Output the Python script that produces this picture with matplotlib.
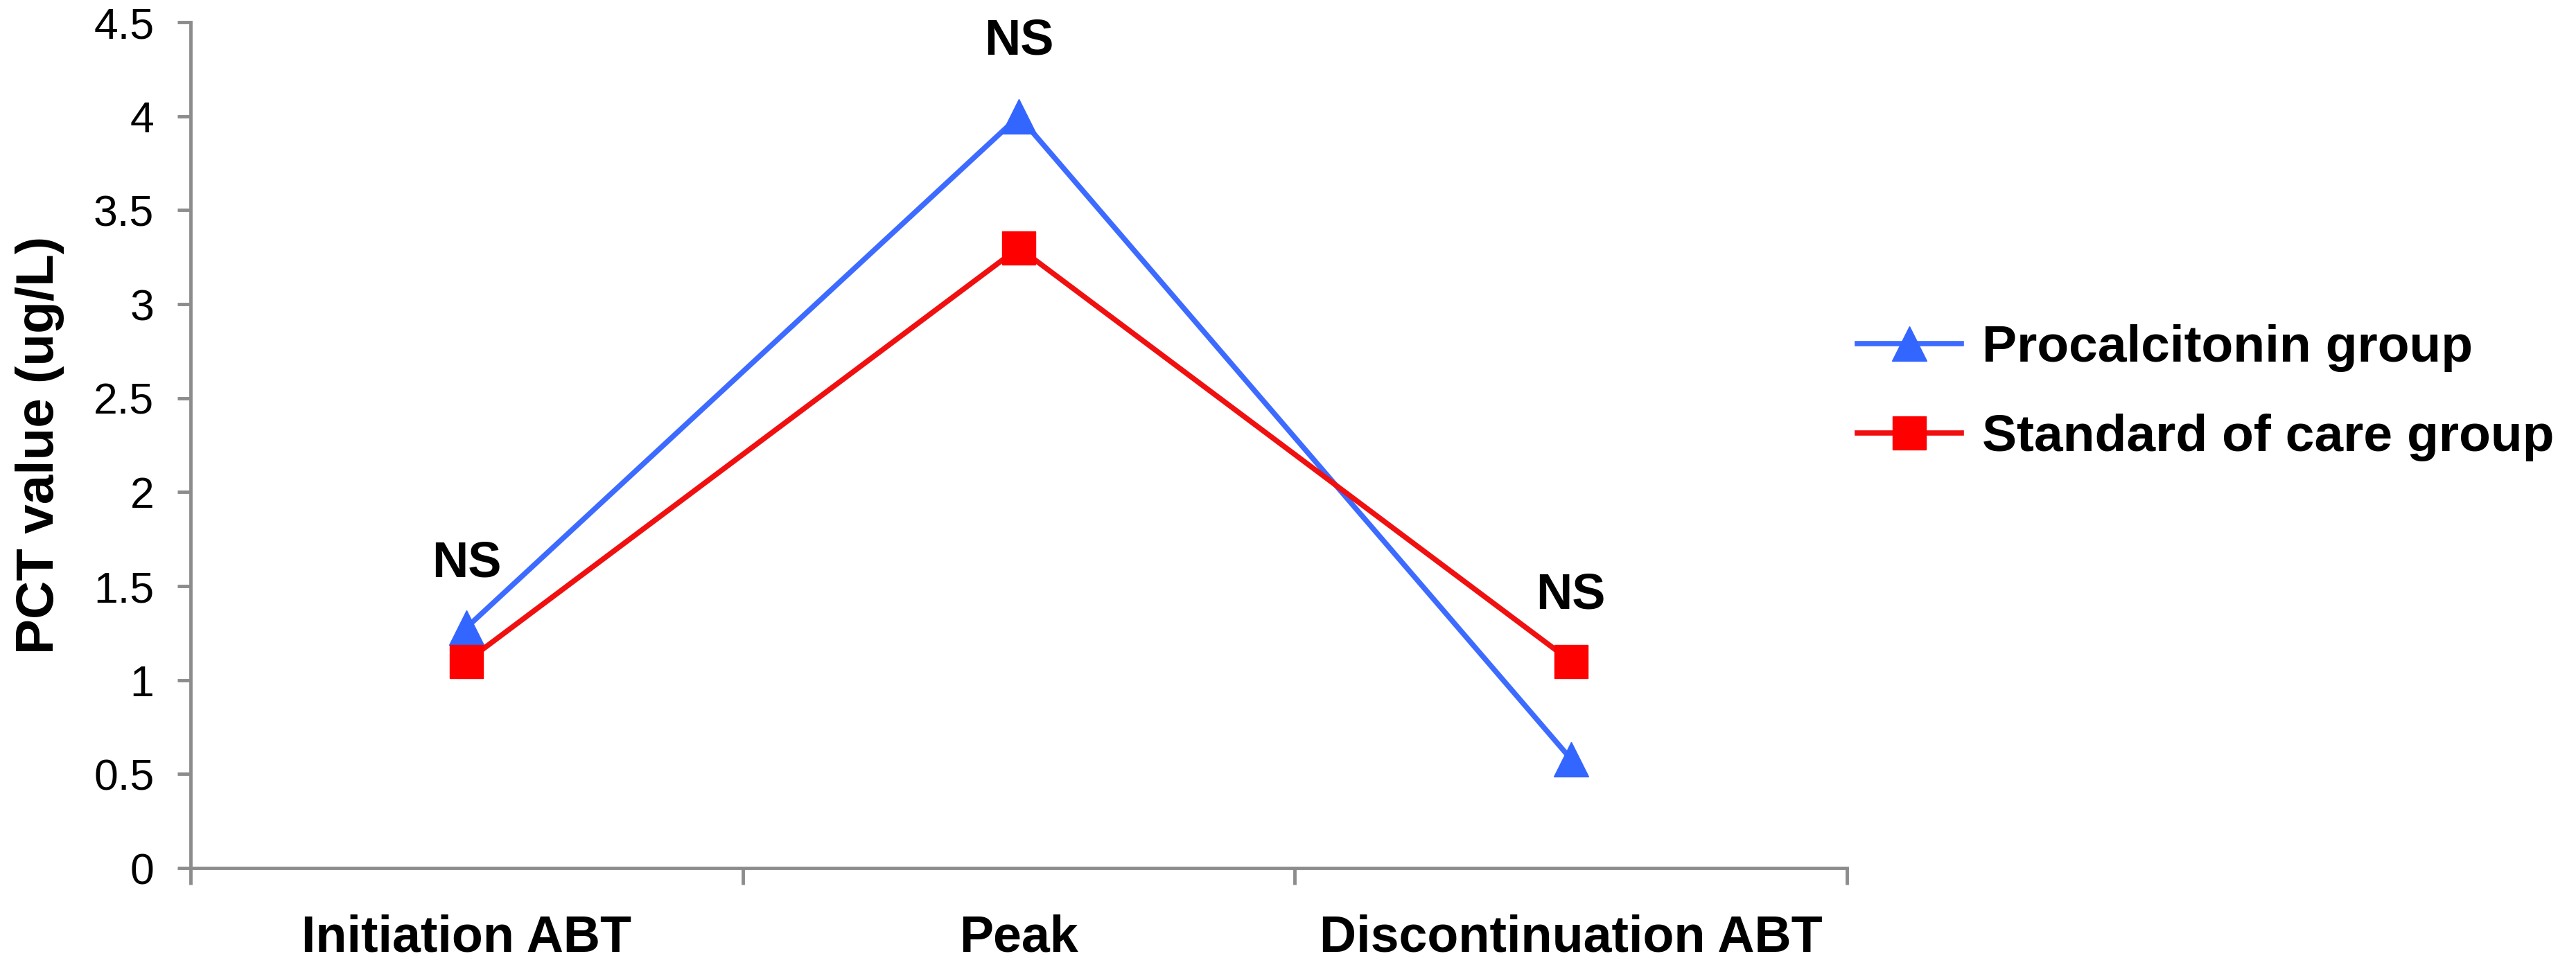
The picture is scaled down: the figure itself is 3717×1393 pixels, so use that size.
import numpy as np
import matplotlib
matplotlib.use("Agg")
import matplotlib.pyplot as plt

# values
categories = ["Initiation ABT", "Peak", "Discontinuation ABT"]
procalcitonin = [1.28, 4.0, 0.58]
standard_care = [1.1, 3.3, 1.1]
ns_heights = [1.62, 4.4, 1.45]
ns_labels = ["NS", "NS", "NS"]
y_ticks = [0, 0.5, 1, 1.5, 2, 2.5, 3, 3.5, 4, 4.5]
y_ticklabels = ["0", "0.5", "1", "1.5", "2", "2.5", "3", "3.5", "4", "4.5"]

plt.rcParams['font.family'] = ['Liberation Sans', 'DejaVu Sans']
axis_grey = "#8c8c8c"

fig = plt.figure(figsize=(37.17, 13.93), dpi=100)
ax = fig.add_axes([0.074, 0.1005, 0.643, 0.8765])

x = np.arange(len(categories))
ax.plot(x, procalcitonin, color="#3d6bff", lw=5.5, marker="^", markersize=36,
        markerfacecolor="#3366ff", markeredgecolor="#3366ff", label="Procalcitonin group",
        zorder=3)
ax.plot(x, standard_care, color="#f01010", lw=5.5, marker="s", markersize=34,
        markerfacecolor="#ff0000", markeredgecolor="#ff0000", label="Standard of care group",
        zorder=4)

for xi, h, txt in zip(x, ns_heights, ns_labels):
    ax.text(xi, h, txt, ha="center", va="center", fontsize=52, fontweight="bold")

ax.set_xlim(-0.5, len(categories) - 0.5)
ax.set_ylim(0, 4.5)

# category boundary ticks, labels centred in between
ax.set_xticks(np.arange(-0.5, len(categories)))
ax.set_xticklabels([])
ax.set_xticks(x, minor=True)
ax.set_xticklabels(categories, minor=True, fontsize=53, fontweight="bold")
ax.tick_params(axis="x", which="major", length=17, width=3.5, color=axis_grey, direction="out")
ax.tick_params(axis="x", which="minor", length=0, pad=48)

ax.set_yticks(y_ticks)
ax.set_yticklabels(y_ticklabels, fontsize=45)
ax.tick_params(axis="y", length=14, width=3.5, color=axis_grey, direction="out", pad=24)

ax.set_ylabel("PCT value (ug/L)", fontsize=55, fontweight="bold", labelpad=30)

for side in ["top", "right"]:
    ax.spines[side].set_visible(False)
for side in ["left", "bottom"]:
    ax.spines[side].set_color(axis_grey)
    ax.spines[side].set_linewidth(3.5)

fig.legend(loc="center left", bbox_to_anchor=(0.713, 0.593), frameon=False,
           prop={"size": 54, "weight": "bold"}, handlelength=2.0, handletextpad=0.4,
           labelspacing=0.8, borderaxespad=0)

fig.savefig("out.png", dpi=100, facecolor="white")
